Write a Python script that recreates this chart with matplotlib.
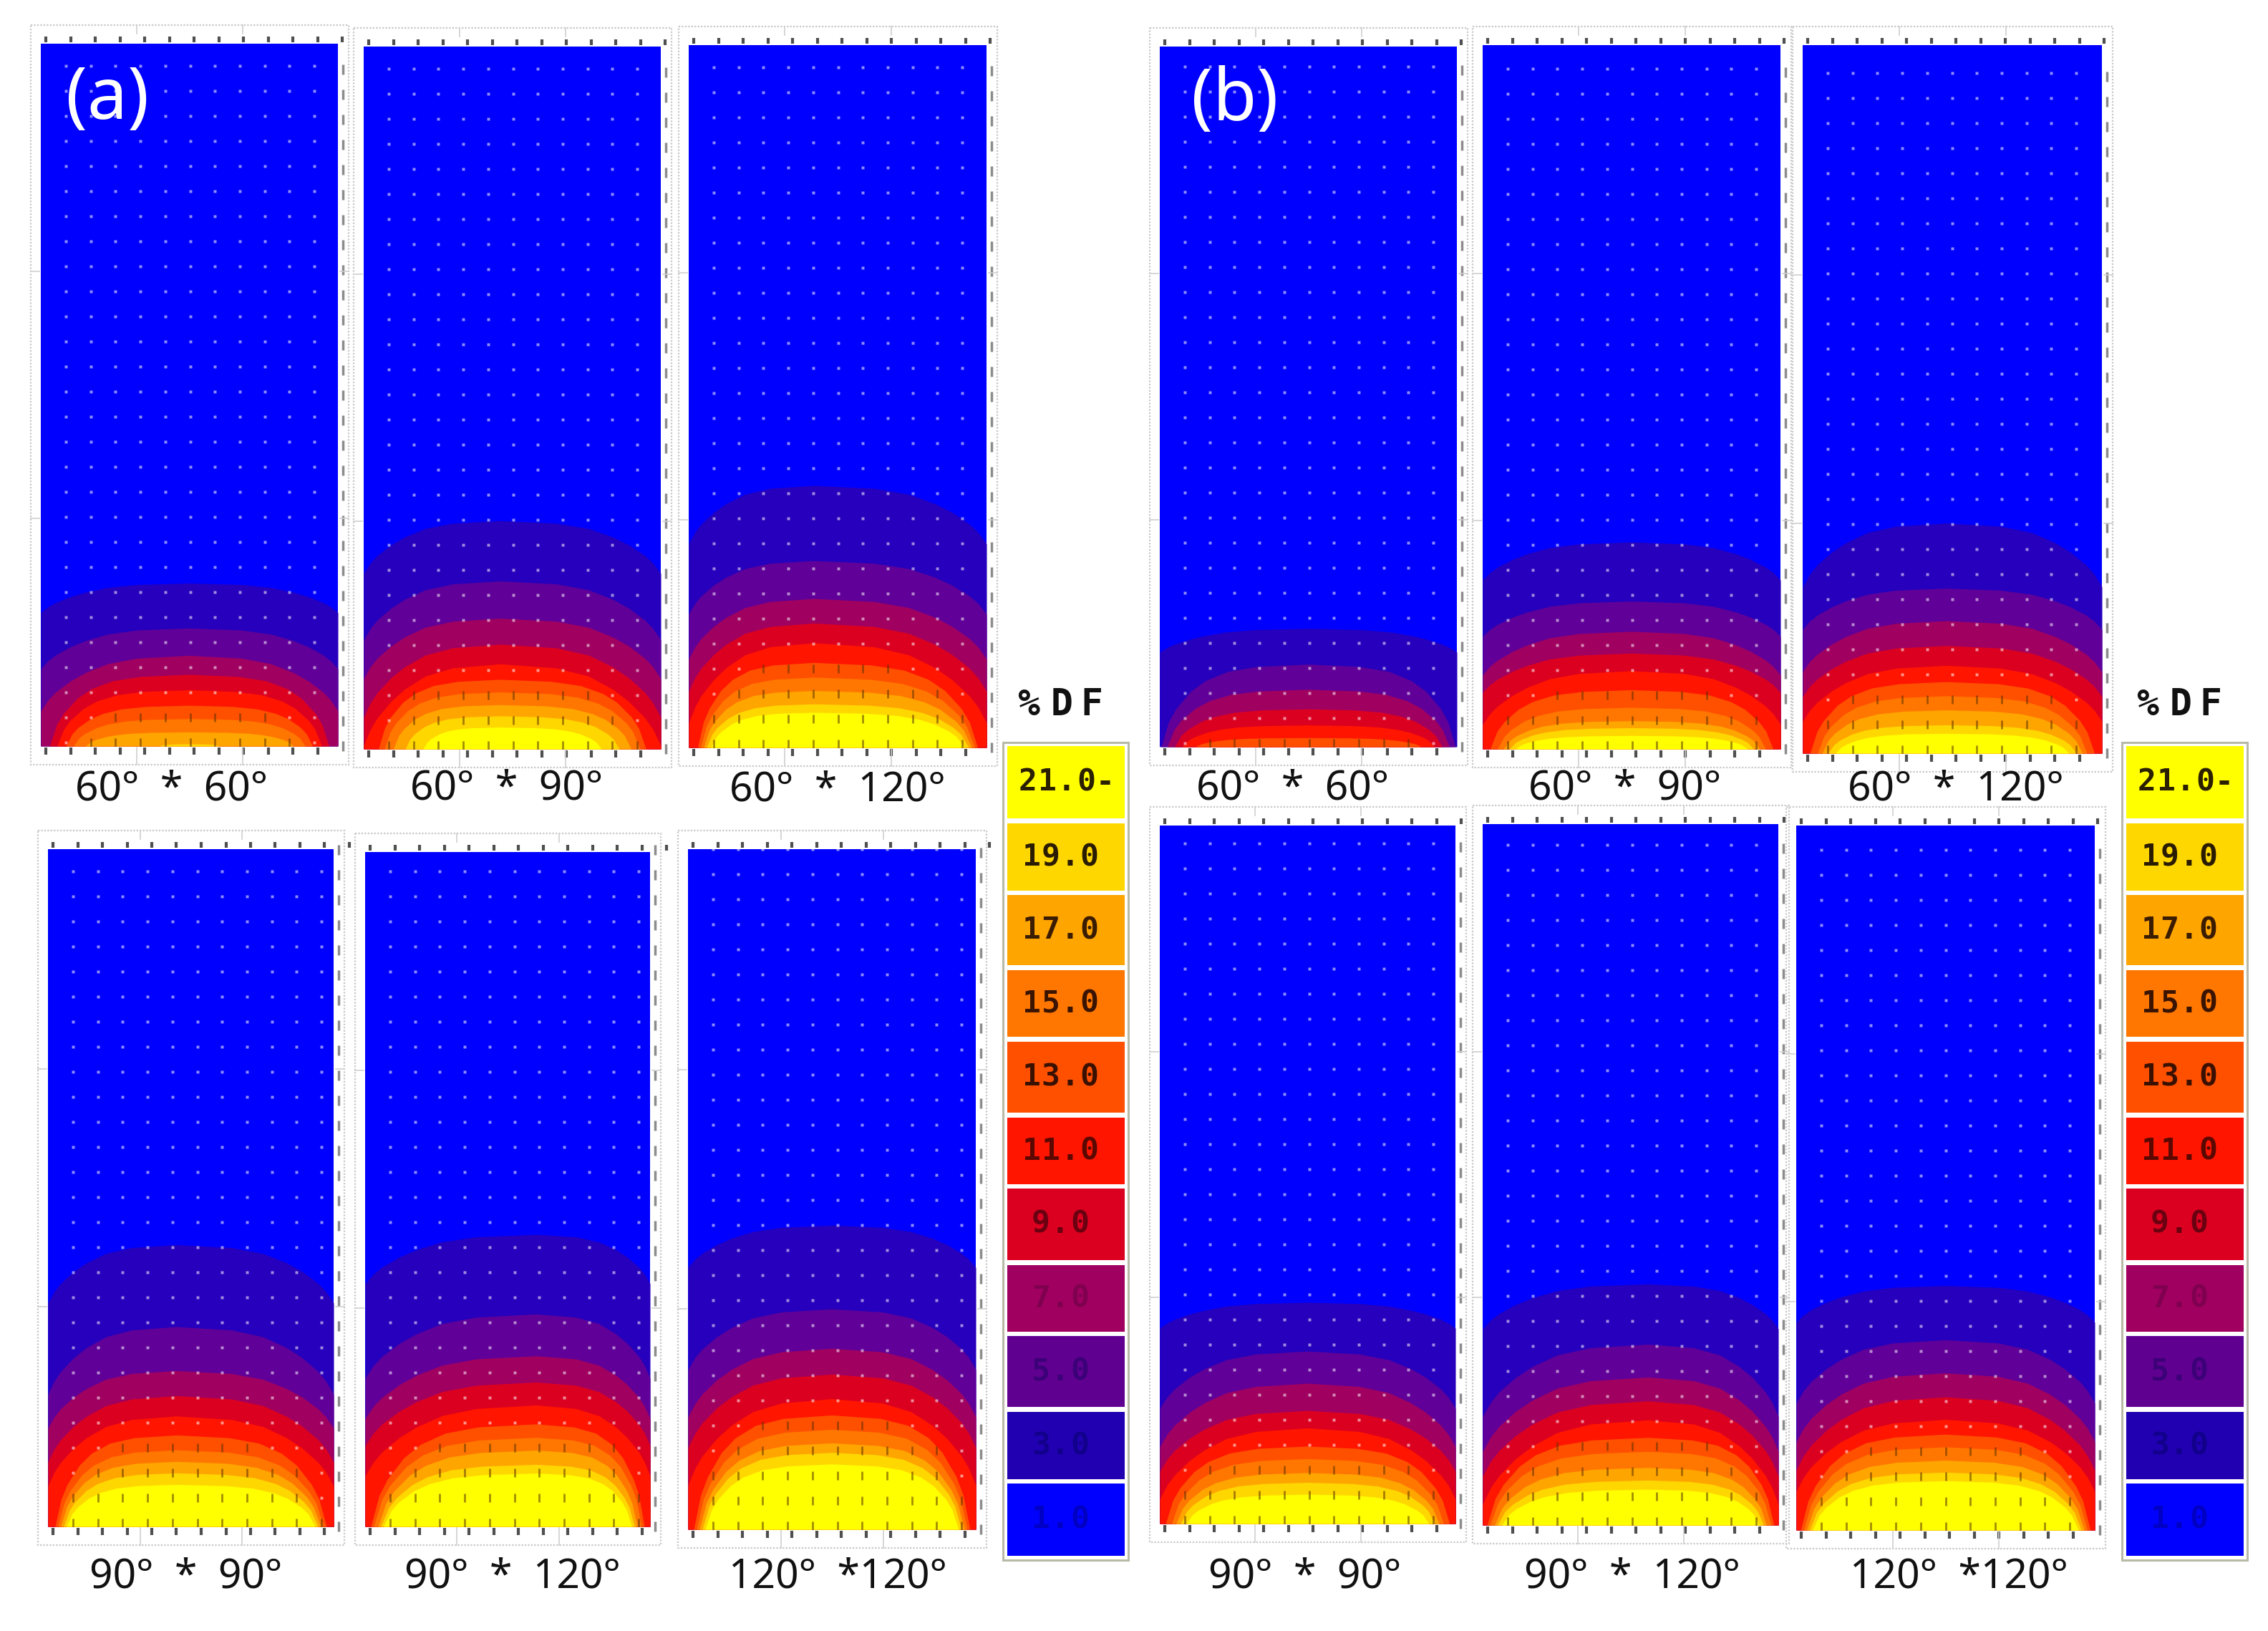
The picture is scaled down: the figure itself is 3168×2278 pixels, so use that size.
import numpy as np
import matplotlib
matplotlib.use("Agg")
import matplotlib.pyplot as plt
from matplotlib.patches import Rectangle

# ---------- data ----------
LEVELS = [3, 5, 7, 9, 11, 13, 15, 17, 19, 21]
BAR_LABELS = ["21.0-", "19.0", "17.0", "15.0", "13.0", "11.0", "9.0", "7.0", "5.0", "3.0", "1.0"]
PANEL_LABELS = ["60° * 60°", "60° * 90°", "60° * 120°", "90° * 90°", "90° * 120°", "120° *120°"]

# crown: height (percent of the panel) of the top of each band at its highest point
# edge: height at the side wall, or (negative) how far from the wall the band meets the floor
A1_CROWN = [23.2, 16.8, 12.9, 10.2, 8.0, 5.8, 3.9, 2.0, 0.3, 0]
A1_EDGE = [19.0, 11.0, 5.0, -3.0, -5.5, -8.5, -11, -15, -40, 0]
A2_CROWN = [32.5, 23.9, 18.6, 14.9, 12.1, 9.9, 8.1, 6.3, 4.7, 3.1]
A2_EDGE = [25.0, 15.5, 10.0, 4.5, 0.5, -5, -7, -10, -14, -20]
A3_CROWN = [37.3, 26.6, 21.2, 17.7, 14.9, 12.1, 10.0, 8.1, 6.2, 5.0]
A3_EDGE = [29.0, 19.0, 12.6, 8.0, 3.5, -3, -4, -5, -6, -7.5]
A4_CROWN = [41.6, 29.5, 23.0, 19.3, 16.3, 13.5, 11.3, 9.6, 7.9, 6.2]
A4_EDGE = [33.0, 19.5, 14.5, 9.5, 6.0, -2.5, -3.5, -4.5, -5.5, -6.5]
A5_CROWN = [43.3, 31.5, 25.3, 21.4, 18.0, 15.2, 13.2, 11.3, 9.2, 7.9]
A5_EDGE = [36.0, 22.0, 16.0, 12.0, 7.5, -2, -3, -4.5, -5.5, -6.5]
A6_CROWN = [44.7, 32.4, 26.6, 22.8, 19.2, 16.8, 14.7, 12.7, 11.3, 9.6]
A6_EDGE = [38.5, 23.5, 16.5, 12.0, 6.5, -2, -3, -4, -5, -6]
B1_CROWN = [16.9, 11.8, 8.2, 5.4, 3.1, 1.3, 0, 0, 0, 0]
B1_EDGE = [13.5, -0.5, -2.5, -5, -7.5, -12, 0, 0, 0, 0]
B2_CROWN = [29.4, 21.0, 16.7, 13.6, 11.1, 8.4, 5.9, 4.0, 3.0, 1.9]
B2_EDGE = [24.0, 16.0, 10.5, 8.0, 3.5, -2.5, -5, -7, -9, -11]
B3_CROWN = [32.5, 23.3, 18.7, 15.2, 12.4, 10.1, 8.1, 6.1, 4.0, 2.8]
B3_EDGE = [23.5, 17.5, 11.5, 8.0, 4.5, -2.5, -5, -6.5, -8.5, -11]
B4_CROWN = [31.7, 24.7, 20.1, 16.2, 13.7, 11.1, 9.3, 7.3, 5.9, 4.2]
B4_EDGE = [28.0, 16.5, 11.0, 7.5, 3.5, -2, -4, -5.5, -7, -9]
B5_CROWN = [34.4, 25.8, 21.1, 17.7, 15.0, 12.5, 10.5, 8.2, 6.4, 5.1]
B5_EDGE = [28.0, 15.5, 10.5, 7.0, 3.0, -1.5, -2.5, -4, -5, -6.5]
B6_CROWN = [34.7, 27.0, 22.3, 18.9, 15.7, 13.6, 11.8, 9.9, 8.2, 7.0]
B6_EDGE = [29.5, 18.0, 12.5, 8.5, 5.5, -1.5, -2.5, -3.5, -4.5, -5.5]
# where across the panel (percent) the crown sits
PEAKS = [50, 46, 42, 45, 60, 50, 50, 50, 48, 50, 56, 50]
# outlines of a contour, from its foot (0) to its crown (1)
PROFILE_STATION = [0, 0.05, 0.1, 0.2, 0.3, 0.45, 0.65, 1]
RISE_WALL = [0, 0.20, 0.34, 0.54, 0.69, 0.85, 0.95, 1]
RISE_FLOOR = [0, 0.30, 0.46, 0.67, 0.80, 0.91, 0.97, 1]

# ---------- styling and layout ----------
BAND_COLORS = ["#2600BC", "#600098", "#A00060", "#DC0020", "#FF1500",
               "#FF5000", "#FF7700", "#FFA500", "#FFD700", "#FFFF00"]
BLUE = "#0000FF"
BAR_COLORS = ["#FFFF00", "#FFD700", "#FFA500", "#FF7700", "#FF5000", "#FF1500",
              "#DC0020", "#A00060", "#600090", "#2000B0", "#0000FF"]
BAR_TEXT = ["#2a2000", "#2a1c00", "#3a1c00", "#3a1400", "#3a1000", "#5a0800",
            "#6a0010", "#800050", "#3c0078", "#12008c", "#0000c4"]
BAR_TOPS = [1042, 1150, 1250, 1355, 1455, 1561, 1660, 1767, 1866, 1972, 2072]
BAR_BOTS = [1143, 1244, 1348, 1448, 1554, 1654, 1760, 1860, 1965, 2066, 2173]
# left, right, top, bottom of each panel in pixels
RECTS = [(57, 472, 61, 1042), (508, 923, 65, 1046), (962, 1378, 63, 1044),
         (67, 466, 1186, 2132), (510, 908, 1190, 2132), (961, 1363, 1186, 2136),
         (1620, 2035, 65, 1043), (2071, 2487, 63, 1046), (2518, 2936, 63, 1052),
         (1620, 2033, 1153, 2128), (2071, 2484, 1151, 2130), (2509, 2926, 1153, 2137)]
LABEL_POS = [(240, 1103), (708, 1102), (1170, 1104), (260, 2203), (716, 2203), (1170, 2203),
             (1806, 1102), (2270, 1102), (2732, 1103), (1823, 2203), (2280, 2203), (2736, 2203)]
CROWNS = [A1_CROWN, A2_CROWN, A3_CROWN, A4_CROWN, A5_CROWN, A6_CROWN,
          B1_CROWN, B2_CROWN, B3_CROWN, B4_CROWN, B5_CROWN, B6_CROWN]
EDGES = [A1_EDGE, A2_EDGE, A3_EDGE, A4_EDGE, A5_EDGE, A6_EDGE,
         B1_EDGE, B2_EDGE, B3_EDGE, B4_EDGE, B5_EDGE, B6_EDGE]

W, H = 3168, 2278
fig = plt.figure(figsize=(W / 100, H / 100), dpi=100, facecolor="white")
over = fig.add_axes([0, 0, 1, 1], zorder=5)
over.set_xlim(0, W)
over.set_ylim(H, 0)
over.axis("off")
over.patch.set_alpha(0)


def contour(x, crown, edge, peak):
    foot = -edge if edge < 0 else 0.0
    wall = edge if edge > 0 else 0.0
    u = np.where(x < peak, (x - foot) / (peak - foot), (100 - foot - x) / (100 - foot - peak))
    profile = RISE_FLOOR if edge < 0 else RISE_WALL
    rise = np.interp(np.clip(u, 0, 1), PROFILE_STATION, profile)
    y = wall + (crown - wall) * rise
    return np.where(u < 0, 0.0, y)


def char_run(cx, cy, text, pitch, size, color):
    start = cx - pitch * (len(text) - 1) / 2
    for i, ch in enumerate(text):
        over.text(start + i * pitch, cy, ch, ha="center", va="center", fontsize=size, color=color,
                  family="DejaVu Sans Mono", fontweight="bold")


for i, ((l, r, t, b), crowns, edges, peak) in enumerate(zip(RECTS, CROWNS, EDGES, PEAKS)):
    ax = fig.add_axes([l / W, 1 - b / H, (r - l) / W, (b - t) / H], zorder=2)
    ax.set_xlim(0, 100)
    ax.set_ylim(0, 100)
    ax.axis("off")
    ax.add_patch(Rectangle((0, 0), 100, 100, facecolor=BLUE, edgecolor="none", zorder=0))
    xs = np.linspace(0, 100, 801)
    curves = []
    for col, crown, edge in zip(BAND_COLORS, crowns, edges):
        if crown <= 0:
            continue
        y = contour(xs, crown, edge, peak)
        curves.append(y)
        ax.fill_between(xs, 0, y, color=col, lw=0, zorder=1)
    # grid points of the simulation
    px_w, px_h = r - l, b - t
    gx = (35 + 34.7 * np.arange(11)) / px_w * 100
    gy = (5 + 35.0 * np.arange(0, 28)) / px_h * 100
    lx, ly, dx, dy = [], [], [], []
    for xg in gx:
        ix = np.argmin(abs(xs - xg))
        for yg in gy:
            n = sum(c[ix] > yg for c in curves)
            if n >= 6:
                dx.append(xg); dy.append(yg)
            else:
                lx.append(xg); ly.append(yg)
    ax.plot(lx, ly, ls="none", marker="s", ms=3.4, mfc="white", mec="none", alpha=0.55, zorder=3)
    ax.plot(dx, dy, ls="none", marker="|", ms=9, mew=2.0, color="#5a3000", alpha=0.55, zorder=3)
    # small black tick labels along the outside
    tx = (7 + 34.5 * np.arange(13)) / px_w * 100
    ax.plot(tx, np.full(13, 100 + 6 / px_h * 100), ls="none", marker="|", ms=6, mew=3,
            color="#303030", alpha=0.85, clip_on=False)
    bx = (7 + 34.5 * np.arange(12)) / px_w * 100
    ax.plot(bx, np.full(12, -7 / px_h * 100), ls="none", marker="|", ms=7, mew=3,
            color="#303030", alpha=0.85, clip_on=False)
    ry = (0 + 35.0 * np.arange(0, 28)) / px_h * 100
    ax.plot(np.full(28, 100 + 7 / px_w * 100), ry, ls="none", marker="|", ms=10, mew=2.5,
            color="#404040", alpha=0.6, clip_on=False)
    # dotted outer frame
    fl, fr, ft, fb = l - 14, r + 15, t - 26, b + 26
    over.add_patch(Rectangle((fl, ft), fr - fl, fb - ft, fill=False, ec="#c8c8c8", lw=1.6, ls=(0, (1, 1)), zorder=1))
    for f in (1 / 3, 2 / 3):
        xx = fl + f * (fr - fl)
        over.plot([xx, xx], [b + 2, fb], color="#cfcfcf", lw=1.2, zorder=1)
        over.plot([xx, xx], [ft, ft + 12], color="#cfcfcf", lw=1.2, zorder=1)
        yy = ft + f * (fb - ft)
        over.plot([fl, fl + 12], [yy, yy], color="#cfcfcf", lw=1.2, zorder=1)
        over.plot([fr - 12, fr], [yy, yy], color="#cfcfcf", lw=1.2, zorder=1)
    # caption
    cx, cy = LABEL_POS[i]
    label = PANEL_LABELS[i % 6].replace(" * ", "  *  ").replace(" *1", "  *1")
    over.text(cx, cy, label, ha="center", va="center", fontsize=41, family="Noto Sans", color="#111111")

over.text(150, 140, "(a)", ha="center", va="center", fontsize=72, color="white", family="Noto Sans", fontweight="medium")
over.text(1725, 141, "(b)", ha="center", va="center", fontsize=72, color="white", family="Noto Sans", fontweight="medium")

# colour keys
for off in (0, 1563):
    over.add_patch(Rectangle((1401 + off, 1037), 175, 1142, fc="white", ec="#b9b9a8", lw=2.2, zorder=1))
    for top, bot, col, tc, s in zip(BAR_TOPS, BAR_BOTS, BAR_COLORS, BAR_TEXT, BAR_LABELS):
        over.add_patch(Rectangle((1407 + off, top), 164, bot - top, fc=col, ec="none", zorder=2))
        char_run(1490 + off if len(s) == 5 else 1481 + off, (top + bot) / 2, s, 27, 31, tc)
    for ch, cx in zip("%DF", (1437, 1483, 1525)):
        over.text(cx + off, 985, ch, ha="center", va="center", fontsize=37, color="#111111",
                  family="DejaVu Sans Mono", fontweight="bold")

fig.savefig("out.png", dpi=100, facecolor="white")
